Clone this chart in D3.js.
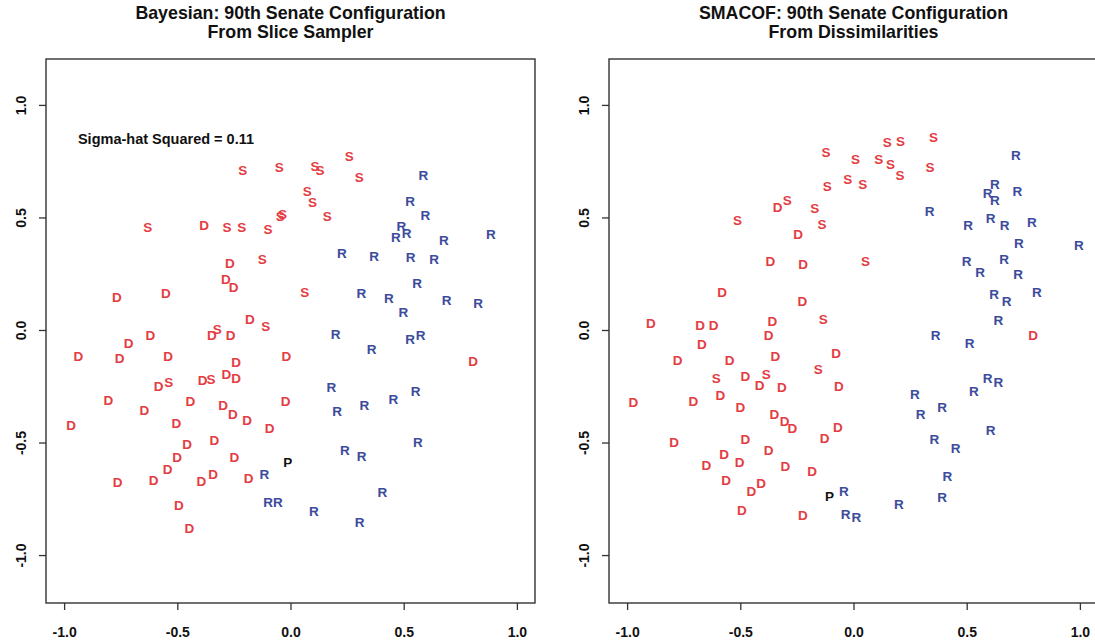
<!DOCTYPE html>
<html>
<head>
<meta charset="utf-8">
<script src="https://cdn.jsdelivr.net/npm/d3@7"></script>
<style>
body { margin: 0; background: #fff; }
svg text { font-family: "Liberation Sans", Arial, Helvetica, sans-serif; }
</style>
</head>
<body>
<script>
// ideal points, [dim1, dim2]
var bayesDem = [
  [-0.381,0.467],[-0.268,0.296],[-0.285,0.224],[-0.251,0.190],[-0.767,0.148],[-0.550,0.164],[-0.180,0.046],
  [-0.619,-0.022],[-0.715,-0.058],[-0.347,-0.022],[-0.265,-0.025],[-0.937,-0.114],[-0.755,-0.124],[-0.541,-0.117],
  [-0.240,-0.141],[-0.018,-0.117],[-0.583,-0.250],[-0.388,-0.225],[-0.283,-0.196],[-0.240,-0.213],[-0.804,-0.310],
  [-0.645,-0.354],[-0.442,-0.314],[-0.298,-0.333],[-0.255,-0.373],[-0.192,-0.399],[-0.022,-0.314],[-0.969,-0.421],
  [-0.504,-0.415],[-0.092,-0.436],[-0.457,-0.507],[-0.336,-0.488],[-0.501,-0.563],[-0.248,-0.563],[-0.543,-0.618],
  [-0.764,-0.677],[-0.605,-0.665],[-0.394,-0.670],[-0.342,-0.640],[-0.185,-0.658],[-0.493,-0.778],[-0.447,-0.881],
  [0.807,-0.139]
];
var bayesSouth = [
  [-0.211,0.712],[-0.050,0.723],[-0.631,0.456],[-0.280,0.456],[-0.215,0.456],[-0.099,0.446],[-0.045,0.508],
  [-0.035,0.515],[-0.125,0.316],[-0.109,0.019],[0.260,0.772],[0.108,0.726],[0.130,0.708],[0.304,0.679],
  [0.074,0.619],[0.097,0.567],[0.162,0.508],[0.063,0.167],[-0.538,-0.233],[-0.351,-0.218],[-0.324,0.004]
];
var bayesRep = [
  [0.587,0.689],[0.528,0.572],[0.596,0.512],[0.490,0.461],[0.513,0.431],[0.466,0.412],[0.677,0.400],[0.885,0.424],
  [0.227,0.342],[0.369,0.328],[0.531,0.323],[0.634,0.316],[0.559,0.209],[0.313,0.163],[0.435,0.141],[0.499,0.081],
  [0.690,0.133],[0.829,0.119],[0.199,-0.018],[0.358,-0.087],[0.528,-0.040],[0.575,-0.022],[0.180,-0.255],
  [0.206,-0.359],[0.326,-0.336],[0.454,-0.307],[0.553,-0.270],[0.563,-0.499],[0.240,-0.532],[0.314,-0.561],
  [0.406,-0.721],[0.103,-0.807],[0.305,-0.852],[-0.115,-0.640],[-0.099,-0.763],[-0.056,-0.763]
];
var bayesPres = [[-0.012,-0.585]];

var smacofDem = [
  [-0.335,0.545],[-0.245,0.427],[-0.367,0.308],[-0.223,0.293],[-0.580,0.168],[-0.226,0.126],[-0.895,0.030],
  [-0.677,0.022],[-0.618,0.022],[-0.358,0.039],[-0.375,-0.025],[-0.670,-0.062],[-0.777,-0.136],[-0.547,-0.136],
  [-0.345,-0.114],[-0.077,-0.102],[-0.478,-0.203],[-0.415,-0.244],[-0.316,-0.255],[-0.065,-0.250],[-0.972,-0.319],
  [-0.707,-0.314],[-0.588,-0.289],[-0.500,-0.344],[-0.350,-0.373],[-0.304,-0.407],[-0.270,-0.437],[-0.069,-0.433],
  [-0.127,-0.481],[-0.792,-0.499],[-0.478,-0.487],[-0.571,-0.551],[-0.375,-0.536],[-0.650,-0.600],[-0.503,-0.588],
  [-0.301,-0.606],[-0.183,-0.625],[-0.563,-0.665],[-0.408,-0.681],[-0.451,-0.717],[-0.493,-0.799],[-0.224,-0.821],
  [0.793,-0.022]
];
var smacofSouth = [
  [-0.121,0.790],[-0.025,0.668],[-0.116,0.639],[-0.293,0.579],[-0.171,0.541],[-0.139,0.470],[-0.512,0.486],
  [-0.134,0.049],[0.009,0.760],[0.041,0.649],[0.149,0.834],[0.208,0.841],[0.353,0.856],[0.112,0.760],
  [0.164,0.738],[0.205,0.689],[0.338,0.723],[0.053,0.304],[-0.606,-0.215],[-0.385,-0.196],[-0.156,-0.176]
];
var smacofRep = [
  [0.717,0.775],[0.625,0.649],[0.592,0.609],[0.625,0.575],[0.724,0.616],[0.336,0.530],[0.506,0.468],[0.606,0.498],
  [0.668,0.464],[0.788,0.479],[0.731,0.387],[0.996,0.375],[0.500,0.308],[0.559,0.259],[0.665,0.316],[0.727,0.246],
  [0.621,0.160],[0.676,0.130],[0.810,0.170],[0.640,0.044],[0.363,-0.021],[0.513,-0.058],[0.592,-0.213],
  [0.640,-0.233],[0.532,-0.272],[0.271,-0.284],[0.296,-0.376],[0.391,-0.344],[0.606,-0.444],[0.357,-0.484],
  [0.451,-0.526],[0.415,-0.650],[0.392,-0.741],[0.200,-0.773],[-0.043,-0.717],[-0.035,-0.818],[0.013,-0.833]
];
var smacofPres = [[-0.106,-0.739]];

var tickVals = [-1, -0.5, 0, 0.5, 1];

var red = "#e43c42", blue = "#3c4b9b";

var svg = d3.select("body").append("svg")
  .attr("width", 1095)
  .attr("height", 642);

function panel(left, titles, groups, note) {
  var top = 59, w = 489, h = 544;
  var x = d3.scaleLinear().domain([-1.08, 1.08]).range([left, left + w]);
  var y = d3.scaleLinear().domain([-1.213, 1.204]).range([top + h, top]);

  titles.forEach(function(t, i) {
    svg.append("text")
      .attr("x", left + w / 2)
      .attr("y", 19 + i * 19)
      .attr("text-anchor", "middle")
      .style("font-size", "17.8px")
      .style("font-weight", "bold")
      .style("fill", "#111")
      .text(t);
  });

  svg.append("rect")
    .attr("x", left).attr("y", top)
    .attr("width", w).attr("height", h)
    .style("fill", "none")
    .style("stroke", "#333")
    .style("stroke-width", 1.4);

  var fmt = function(d) { return d.toFixed(1); };

  var xa = svg.append("g")
    .attr("transform", "translate(0," + (top + h) + ")")
    .call(d3.axisBottom(x).tickValues(tickVals).tickFormat(fmt).tickSize(7));
  var ya = svg.append("g")
    .attr("transform", "translate(" + left + ",0)")
    .call(d3.axisLeft(y).tickValues(tickVals).tickFormat(fmt).tickSize(7));
  [xa, ya].forEach(function(a) {
    a.select(".domain").remove();
    a.selectAll("line").style("stroke", "#333").style("stroke-width", 1.3);
    a.selectAll("text")
      .style("font-size", "14px")
      .style("font-weight", "bold")
      .style("fill", "#111")
      .attr("font-family", null);
  });
  xa.selectAll("text").attr("y", 34).attr("dy", 0);
  ya.selectAll("text")
    .attr("transform", "rotate(-90)")
    .attr("x", 0).attr("y", -20).attr("dy", 0)
    .attr("text-anchor", "middle");

  groups.forEach(function(g) {
    svg.append("g").selectAll("text")
      .data(g.pts)
      .enter().append("text")
      .attr("x", function(d) { return x(d[0]); })
      .attr("y", function(d) { return y(d[1]); })
      .attr("dy", "0.36em")
      .attr("text-anchor", "middle")
      .style("font-size", "13.5px")
      .style("font-weight", "bold")
      .style("fill", g.col)
      .text(g.lab);
  });

  if (note) {
    svg.append("text")
      .attr("x", x(-0.55))
      .attr("y", y(0.85))
      .attr("dy", "0.36em")
      .attr("text-anchor", "middle")
      .style("font-size", "14.5px")
      .style("font-weight", "bold")
      .style("fill", "#111")
      .text(note);
  }
}

panel(46, ["Bayesian: 90th Senate Configuration", "From Slice Sampler"], [
  {pts: bayesDem, lab: "D", col: red},
  {pts: bayesSouth, lab: "S", col: red},
  {pts: bayesRep, lab: "R", col: blue},
  {pts: bayesPres, lab: "P", col: "#111"}
], "Sigma-hat Squared = 0.11");

panel(609, ["SMACOF: 90th Senate Configuration", "From Dissimilarities"], [
  {pts: smacofDem, lab: "D", col: red},
  {pts: smacofSouth, lab: "S", col: red},
  {pts: smacofRep, lab: "R", col: blue},
  {pts: smacofPres, lab: "P", col: "#111"}
], null);
</script>
</body>
</html>
